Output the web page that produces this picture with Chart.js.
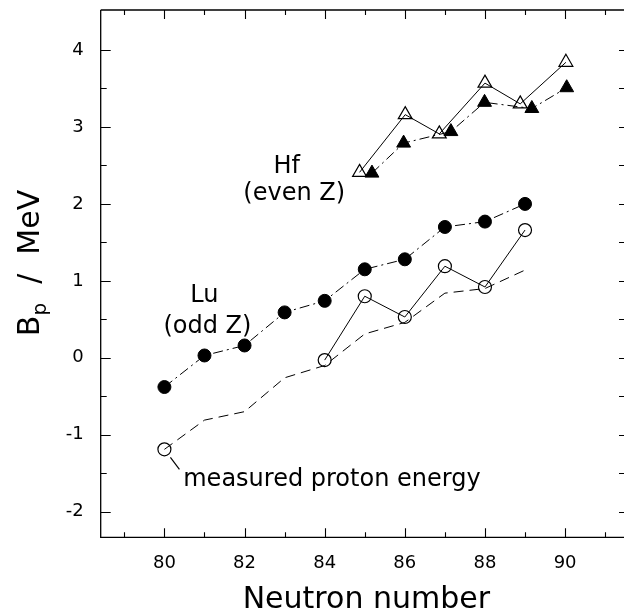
<!DOCTYPE html>
<html><head><meta charset="utf-8">
<script src="https://cdn.jsdelivr.net/npm/chart.js@4/dist/chart.umd.min.js"></script>
<style>html,body{margin:0;padding:0;background:#fff}</style>
</head><body>
<canvas id="c" width="625" height="610"></canvas>
<script>
// ---- data ----
const luCalcN = [80, 81, 82, 83, 84, 85, 86, 87, 88, 89];
const luCalc  = [-0.38, 0.03, 0.16, 0.59, 0.74, 1.15, 1.28, 1.70, 1.77, 2.00];

const luMeasN = [80, 81, 82, 83, 84, 85, 86, 87, 88, 89];
const luMeas  = [-1.19, null, null, null, -0.03, 0.80, 0.53, 1.19, 0.92, 1.66];

const protonN = [80, 81, 82, 83, 84, 85, 86, 87, 88, 89];
const protonE = [-1.19, -0.81, -0.70, -0.26, -0.10, 0.31, 0.46, 0.84, 0.90, 1.14];

const hfOpenN = [84.87, 86.01, 86.86, 88.00, 88.88, 90.02];
const hfOpen  = [2.41, 3.16, 2.91, 3.57, 3.30, 3.84];

const hfFillN = [85.18, 85.97, 87.15, 87.99, 89.17, 90.04];
const hfFill  = [2.40, 2.79, 2.94, 3.32, 3.24, 3.51];

const xTickLabels = [80, 82, 84, 86, 88, 90];
const yTickLabels = [-2, -1, 0, 1, 2, 3, 4];
const xMinor = [79, 80, 81, 82, 83, 84, 85, 86, 87, 88, 89, 90, 91];
const yMinor = [-2, -1.5, -1, -0.5, 0, 0.5, 1, 1.5, 2, 2.5, 3, 3.5, 4];

const xTitle = 'Neutron number';
const yTitleMain = 'B', yTitleSub = 'p', yTitleRest = '  /  MeV';
const annotations = [
  {text: 'Hf', x: 82.72, y: 2.398},
  {text: '(even Z)', x: 81.97, y: 2.05},
  {text: 'Lu', x: 80.645, y: 0.729},
  {text: '(odd Z)', x: 79.975, y: 0.318},
  {text: 'measured proton energy', x: 80.47, y: -1.666}
];

const pts = (xs, ys) => xs.map((v, i) => ({x: v, y: ys[i]}));
const FONT = 'DejaVu Sans';

const furniture = {
  id: 'furniture',
  afterDraw(chart) {
    const {ctx, chartArea: a, scales: {x, y}} = chart;
    ctx.save();
    ctx.strokeStyle = '#000';
    ctx.fillStyle = '#000';
    ctx.lineWidth = 1.3;
    ctx.beginPath();
    ctx.moveTo(a.left, a.top); ctx.lineTo(a.right, a.top);
    ctx.moveTo(a.left, a.top); ctx.lineTo(a.left, a.bottom); ctx.lineTo(a.right, a.bottom);
    ctx.stroke();
    ctx.lineWidth = 1.1;
    ctx.beginPath();
    xMinor.forEach(v => {
      const px = Math.round(x.getPixelForValue(v)) + 0.5;
      const L = (v % 2 === 0) ? 9 : 5;
      ctx.moveTo(px, a.bottom); ctx.lineTo(px, a.bottom - L);
      ctx.moveTo(px, a.top); ctx.lineTo(px, a.top + L);
    });
    yMinor.forEach(v => {
      const py = Math.round(y.getPixelForValue(v)) + 0.5;
      const L = Number.isInteger(v) ? 10 : 6;
      ctx.moveTo(a.left, py); ctx.lineTo(a.left + L, py);
      ctx.moveTo(a.right, py); ctx.lineTo(a.right - 5, py);
    });
    ctx.stroke();

    // leader line from the measured point at N=80 to its caption
    const cx = x.getPixelForValue(luMeasN[0]), cy = y.getPixelForValue(luMeas[0]);
    ctx.beginPath();
    ctx.moveTo(cx + 6, cy + 8); ctx.lineTo(cx + 15, cy + 20);
    ctx.stroke();

    // annotations
    ctx.font = '24px "' + FONT + '"';
    ctx.textAlign = 'left';
    ctx.textBaseline = 'alphabetic';
    annotations.forEach(t => ctx.fillText(t.text, x.getPixelForValue(t.x), y.getPixelForValue(t.y)));

    // x title
    ctx.font = '30px "' + FONT + '"';
    ctx.textAlign = 'center';
    ctx.textBaseline = 'alphabetic';
    ctx.fillText(xTitle, (a.left + a.right) / 2 + 4, 608);

    // y title (rotated, with subscript)
    ctx.save();
    ctx.translate(39, 263);
    ctx.rotate(-Math.PI / 2);
    ctx.textAlign = 'left';
    ctx.font = '30px "' + FONT + '"';
    const wB = ctx.measureText(yTitleMain).width;
    const wR = ctx.measureText(yTitleRest).width;
    ctx.font = '20px "' + FONT + '"';
    const wS = ctx.measureText(yTitleSub).width;
    const total = wB + wS + wR;
    let sx = -total / 2;
    ctx.font = '30px "' + FONT + '"';
    ctx.fillText(yTitleMain, sx, 0); sx += wB;
    ctx.font = '20px "' + FONT + '"';
    ctx.fillText(yTitleSub, sx, 7); sx += wS;
    ctx.font = '30px "' + FONT + '"';
    ctx.fillText(yTitleRest, sx, 0);
    ctx.restore();
    ctx.restore();
  }
};

const noPad = s => { s.paddingTop = 0; s.paddingBottom = 0; s.paddingLeft = 0; s.paddingRight = 0; };

new Chart(document.getElementById('c'), {
  type: 'line',
  data: {
    datasets: [
      {data: pts(hfOpenN, hfOpen), borderColor: '#000', borderWidth: 1, pointStyle: 'triangle',
       pointRadius: 8, pointBorderWidth: 1.2, pointBackgroundColor: 'rgba(0,0,0,0)', pointBorderColor: '#000'},
      {data: pts(hfFillN, hfFill), borderColor: '#000', borderWidth: 1, borderDash: [10, 4, 2, 4], pointStyle: 'triangle',
       pointRadius: 8, pointBorderWidth: 1, pointBackgroundColor: '#000', pointBorderColor: '#000'},
      {data: pts(luCalcN, luCalc), borderColor: '#000', borderWidth: 1, borderDash: [10, 4, 2, 4], pointStyle: 'circle',
       pointRadius: 6.5, pointBorderWidth: 1, pointBackgroundColor: '#000', pointBorderColor: '#000'},
      {data: pts(luMeasN, luMeas), borderColor: '#000', borderWidth: 1, spanGaps: false, pointStyle: 'circle',
       pointRadius: 6.5, pointBorderWidth: 1.2, pointBackgroundColor: 'rgba(0,0,0,0)', pointBorderColor: '#000'},
      {data: pts(protonN, protonE), borderColor: '#000', borderWidth: 1, borderDash: [10, 6], pointRadius: 0}
    ]
  },
  options: {
    responsive: false,
    animation: false,
    devicePixelRatio: 1,
    layout: {autoPadding: false, padding: {top: 10, right: 1, left: 0, bottom: 0}},
    plugins: {legend: {display: false}, tooltip: {enabled: false}},
    elements: {line: {tension: 0}},
    scales: {
      x: {
        type: 'linear', min: 78.41, max: 91.47,
        grid: {display: false, drawTicks: false}, border: {display: false},
        afterBuildTicks: s => { s.ticks = xTickLabels.map(v => ({value: v})); },
        afterFit: s => { s.height = 72.7; noPad(s); },
        ticks: {padding: 15, color: '#000', font: {family: FONT, size: 18}, maxRotation: 0}
      },
      y: {
        type: 'linear', min: -2.333, max: 4.52,
        grid: {display: false, drawTicks: false}, border: {display: false},
        afterBuildTicks: s => { s.ticks = yTickLabels.map(v => ({value: v})); },
        afterFit: s => { s.width = 100.7; noPad(s); },
        ticks: {padding: 17, color: '#000', font: {family: FONT, size: 18}}
      }
    }
  },
  plugins: [furniture]
});
</script>
</body></html>
